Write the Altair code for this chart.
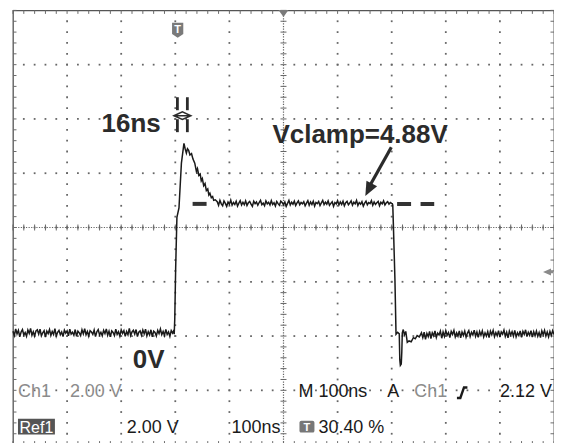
import altair as alt
import pandas as pd

W, H = 542, 435
T_DOMAIN = [0, 1000]
V_DOMAIN = [-4.12, 11.88]

# ---- trace samples (time in ns, voltage in V) ----
base_t = [k * 2.5 for k in range(120)]
base_v = [0.06, -0.10, 0.14, -0.04, 0.09, -0.15, 0.03, 0.12, -0.08, 0.01,
          -0.13, 0.10, -0.02, 0.16, -0.09, 0.04, -0.12, 0.07, 0.11, -0.05,
          0.13, -0.11, 0.00, 0.08, -0.16, 0.06, -0.03, 0.12, -0.10, 0.05,
          -0.06, 0.15, -0.12, 0.02, 0.09, -0.07, 0.03, -0.14, 0.10, -0.01,
          0.07, -0.11, 0.13, -0.05, 0.02, -0.09, 0.12, -0.13, 0.06, 0.00,
          -0.10, 0.11, -0.04, 0.15, -0.07, 0.05, -0.12, 0.08, 0.03, -0.06,
          0.10, -0.14, 0.04, 0.12, -0.08, 0.02, -0.11, 0.09, -0.03, 0.14,
          -0.09, 0.06, -0.15, 0.07, 0.01, -0.10, 0.13, -0.06, 0.04, -0.12,
          0.11, -0.02, 0.08, -0.13, 0.05, -0.07, 0.16, -0.10, 0.03, 0.09,
          -0.05, 0.12, -0.14, 0.02, 0.07, -0.09, 0.10, -0.04, 0.13, -0.11,
          0.04, -0.08, 0.11, -0.15, 0.06, 0.01, -0.12, 0.09, -0.03, 0.14,
          -0.07, 0.05, -0.10, 0.12, -0.06, 0.03, -0.13, 0.08, -0.01, 0.10]
rise_t = [298, 299, 300.7, 303, 306.8, 311.3, 316, 318, 320.5, 322.5,
          324.7, 327, 330, 332.7, 336, 339, 341, 343.5, 346, 348,
          350, 352.5, 355, 357.4, 360, 362, 364, 366.6, 369, 371, 374]
rise_v = [-0.05, 0.5, 2.4, 4.25, 4.6, 6.25, 6.98, 6.80, 6.62, 6.78,
          6.72, 6.55, 6.6, 6.4, 6.25, 5.95, 6.05, 5.8, 5.85, 5.6,
          5.68, 5.42, 5.5, 5.24, 5.3, 5.08, 5.14, 4.98, 5.02, 4.88, 4.9]
plat_t = [377.5 + k * 2.5 for k in range(130)]
plat_v = [4.83, 4.70, 4.88, 4.75, 4.68, 4.86, 4.77, 4.66, 4.82, 4.74,
          4.89, 4.70, 4.80, 4.73, 4.85, 4.67, 4.78, 4.87, 4.71, 4.81,
          4.72, 4.86, 4.69, 4.79, 4.84, 4.74, 4.66, 4.85, 4.76, 4.82,
          4.70, 4.80, 4.88, 4.72, 4.78, 4.68, 4.86, 4.75, 4.81, 4.71,
          4.87, 4.73, 4.79, 4.67, 4.84, 4.76, 4.70, 4.85, 4.80, 4.72,
          4.82, 4.66, 4.77, 4.88, 4.71, 4.81, 4.74, 4.85, 4.69, 4.79,
          4.86, 4.72, 4.80, 4.75, 4.83, 4.68, 4.78, 4.87, 4.70, 4.82,
          4.73, 4.85, 4.67, 4.80, 4.76, 4.84, 4.69, 4.79, 4.88, 4.72,
          4.81, 4.74, 4.86, 4.70, 4.77, 4.83, 4.66, 4.80, 4.75, 4.87,
          4.71, 4.82, 4.73, 4.85, 4.68, 4.79, 4.84, 4.72, 4.78, 4.86,
          4.70, 4.81, 4.75, 4.88, 4.69, 4.80, 4.74, 4.83, 4.67, 4.78,
          4.85, 4.72, 4.80, 4.76, 4.87, 4.70, 4.82, 4.73, 4.79, 4.84,
          4.68, 4.81, 4.75, 4.86, 4.71, 4.79, 4.83, 4.74, 4.80, 4.77]
fall_t = [701, 702, 703, 706, 708, 711, 714, 715, 716, 717.7, 718.7, 719.6,
          721.4, 723.5, 726, 728.8, 732, 736, 740, 743.5, 747, 751, 755]
fall_v = [4.76, 4.7, 4.05, 1.95, -0.05, 0.02, -0.04, -1.0, -1.2, -1.15, -0.7, 0.0,
          0.12, -0.08, 0.05, -0.35, -0.3, -0.33, -0.18, -0.22, -0.1, -0.15, 0.0]
post_t = [757.5 + k * 2.5 for k in range(98)]
post_v = [-0.18, 0.02, -0.24, -0.02, -0.14, 0.05, -0.21, 0.00, -0.11, 0.07,
          -0.17, -0.01, -0.08, 0.06, -0.20, 0.03, -0.13, 0.08, -0.09, 0.01,
          -0.18, 0.05, -0.06, 0.09, -0.15, 0.00, -0.12, 0.07, -0.19, 0.03,
          -0.10, 0.06, -0.16, -0.01, 0.08, -0.14, 0.02, -0.08, 0.10, -0.13,
          0.03, -0.17, 0.05, -0.09, 0.07, -0.15, 0.00, -0.12, 0.04, -0.18,
          0.06, -0.07, 0.09, -0.14, 0.01, -0.11, 0.08, -0.16, 0.03, -0.05,
          0.10, -0.13, 0.02, -0.19, 0.06, -0.08, 0.04, -0.12, 0.09, -0.15,
          0.00, -0.10, 0.07, -0.17, 0.05, -0.06, 0.11, -0.14, 0.02, -0.09,
          0.08, -0.16, 0.04, -0.11, 0.06, -0.13, 0.01, -0.18, 0.07, -0.07,
          0.09, -0.12, 0.03, -0.15, 0.05, -0.10, 0.08, -0.06]

# ---- graticule ----
major_t = list(range(0, 1001, 100))
major_v = [round(-4.12 + 2 * k, 2) for k in range(9)]
minor_t = list(range(0, 1001, 20))
minor_v = [round(-4.12 + 0.4 * k, 2) for k in range(41)]
center_t, center_v = 500, 3.88

xs = alt.Scale(domain=T_DOMAIN, nice=False, zero=False)
ys = alt.Scale(domain=V_DOMAIN, nice=False, zero=False)
FONT = "Liberation Sans"
GRID = "#666666"
DARK = "#2b2b2b"


def X(f="t"):
    return alt.X(f"{f}:Q", scale=xs, axis=None)


def Y(f="v"):
    return alt.Y(f"{f}:Q", scale=ys, axis=None)


def pt(t=0, v=0):
    return pd.DataFrame({"t": [t], "v": [v]})


one = pd.DataFrame({"a": [0]})
mt = pd.DataFrame({"t": minor_t})
mv = pd.DataFrame({"v": minor_v})

# dotted graticule: a dot at every minor step along each major line
dots = pd.DataFrame(
    [{"t": t, "v": v} for v in major_v[1:-1] for t in minor_t[1:-1] if t != center_t]
    + [{"t": t, "v": v} for t in major_t[1:-1] if t != center_t for v in minor_v[1:-1]]
)

trace_df = pd.DataFrame({"t": base_t + rise_t + plat_t + fall_t + post_t,
                         "v": base_v + rise_v + plat_v + fall_v + post_v})
trace_df["i"] = range(len(trace_df))

layers = []
layers.append(alt.Chart(dots).mark_square(size=3.2, filled=True, color=GRID, opacity=1).encode(
    x=X(), y=Y()))

# center crosshair (dense dotted) with cross ticks
layers.append(alt.Chart(pt(center_t)).mark_rule(color=GRID, strokeDash=[1.2, 1.4], strokeWidth=1.2).encode(x=X()))
layers.append(alt.Chart(pt(0, center_v)).mark_rule(color=GRID, strokeDash=[1.2, 1.4], strokeWidth=1.2).encode(y=Y()))
layers.append(alt.Chart(mv).mark_rule(color=GRID).encode(y=Y(), x=alt.value(W / 2 - 3), x2=alt.value(W / 2 + 3)))
layers.append(alt.Chart(mt).mark_rule(color=GRID).encode(x=X(), y=alt.value(H / 2 - 3), y2=alt.value(H / 2 + 3)))

# border ticks
BT = "#6a6a6a"
layers.append(alt.Chart(mt).mark_rule(color=BT).encode(x=X(), y=alt.value(0), y2=alt.value(3.5)))
layers.append(alt.Chart(mt).mark_rule(color=BT).encode(x=X(), y=alt.value(H - 3.5), y2=alt.value(H)))
layers.append(alt.Chart(mv).mark_rule(color=BT).encode(y=Y(), x=alt.value(0), x2=alt.value(3.5)))
layers.append(alt.Chart(mv).mark_rule(color=BT).encode(y=Y(), x=alt.value(W - 3.5), x2=alt.value(W)))

# clamp dashed line
clamp_df = pd.DataFrame({"t": [332, 710], "t2": [358, 778.6], "v": [4.75, 4.75]})
layers.append(alt.Chart(clamp_df).mark_rule(color="#333333", strokeWidth=4, strokeDash=[14, 9.5]).encode(
    x=X(), x2="t2:Q", y=Y()))

# trace
layers.append(alt.Chart(trace_df).mark_line(color="#1a1a1a", strokeWidth=1.5).encode(
    x=X(), y=Y(), order="i:Q"))

# annotation texts
def big(txt, t, v, align):
    return alt.Chart(pt(t, v)).mark_text(text=txt, font=FONT, fontSize=26, fontWeight="bold",
                                         color=DARK, align=align, baseline="alphabetic").encode(x=X(), y=Y())


layers.append(big("16ns", 273, 7.39, "right"))
layers.append(big("Vclamp=4.88V", 479.7, 6.99, "left"))
layers.append(big("0V", 221.4, -1.29, "left"))

# arrow
arrow_df = pd.DataFrame({"t": [699.3], "v": [6.84], "t2": [659], "v2": [5.4]})
layers.append(alt.Chart(arrow_df).mark_rule(color=DARK, strokeWidth=3.2).encode(
    x=X(), y=Y(), x2="t2:Q", y2="v2:Q"))
layers.append(alt.Chart(pt(657.2, 5.27)).mark_point(
    shape="M0,-1L0.86,1L-0.86,1Z", size=196, angle=207.5, filled=True, fill=DARK,
    strokeWidth=0, opacity=1).encode(x=X(), y=Y()))

# time cursors
cur_df = pd.DataFrame({"t": [303.9, 322.3]})
layers.append(alt.Chart(cur_df).mark_rule(color=DARK, strokeWidth=2.8).encode(
    x=X(), y=alt.value(87), y2=alt.value(100)))
layers.append(alt.Chart(cur_df).mark_rule(color=DARK, strokeWidth=2.8).encode(
    x=X(), y=alt.value(109), y2=alt.value(122)))
layers.append(alt.Chart(pt(313.1)).mark_point(
    shape="M-1,0L0,-0.45L1,0L0,0.45Z M-1,0L1,0", size=289, filled=False, stroke=DARK,
    strokeWidth=1.5, opacity=1).encode(x=X(), y=alt.value(105.5)))

# screen markers
MK = "#7a7a7a"
layers.append(alt.Chart(pt(304.4)).mark_point(
    shape="M-0.75,-1L0.75,-1L0.75,0.5L0,1L-0.75,0.5Z", size=225, filled=True, fill=MK,
    strokeWidth=0, opacity=1).encode(x=X(), y=alt.value(20)))
layers.append(alt.Chart(pt(304.4)).mark_text(text="T", font=FONT, fontSize=11, fontWeight="bold",
                                             color="white", baseline="alphabetic").encode(
    x=X(), y=alt.value(23)))
layers.append(alt.Chart(pt(center_t)).mark_point(
    shape="M-1,-0.7L1,-0.7L0,0.7Z", size=100, filled=True, fill=MK, strokeWidth=0,
    opacity=1).encode(x=X(), y=alt.value(3)))
layers.append(alt.Chart(pt(0, 2.24)).mark_point(
    shape="M-1,0L0.6,-0.7L0.6,0.7Z M0.6,-0.25L1,-0.25L1,0.25L0.6,0.25Z", size=100,
    filled=True, fill="#8a8a8a", strokeWidth=0, opacity=1).encode(x=alt.value(536), y=Y()))

# readouts
def ro(txt, x, y, color="#1a1a1a", align="left", size=18, weight="normal"):
    return alt.Chart(one).mark_text(text=txt, font=FONT, fontSize=size, fontWeight=weight,
                                    color=color, align=align, baseline="alphabetic").encode(
        x=alt.value(x), y=alt.value(y))


GRAY = "#8c8c8c"
layers.append(ro("Ch1", 5, 387.5, GRAY))
layers.append(ro("2.00 V", 57, 387.5, GRAY))
layers.append(ro("M 100ns", 286, 387.5))
layers.append(ro("A", 375, 387.5))
layers.append(ro("Ch1", 402, 387.5, GRAY))
layers.append(ro("2.12 V", 540, 387.5, align="right"))
layers.append(alt.Chart(one).mark_point(
    shape="M-1,1L-0.35,1L0.35,-1L1,-1", size=110, filled=False, stroke="#1a1a1a",
    strokeWidth=2.4, opacity=1).encode(x=alt.value(450), y=alt.value(383)))

layers.append(alt.Chart(one).mark_rect(color="#555555").encode(
    x=alt.value(5), x2=alt.value(42), y=alt.value(409), y2=alt.value(425)))
layers.append(ro("Ref1", 23.5, 423, "white", align="center", size=16))
layers.append(ro("2.00 V", 114, 423))
layers.append(ro("100ns", 219, 423))
layers.append(alt.Chart(one).mark_rect(color="#777777", cornerRadius=2).encode(
    x=alt.value(287), x2=alt.value(302), y=alt.value(411), y2=alt.value(423)))
layers.append(ro("T", 294.5, 421.5, "white", align="center", size=11, weight="bold"))
layers.append(ro("30.40 %", 306, 423))

chart = alt.layer(*layers).properties(
    width=W, height=H,
    padding={"left": 5, "top": 2, "right": 0, "bottom": 0},
    autosize="none",
    background="white",
).configure_view(stroke="#555555", strokeWidth=1.3)

chart.save("out.html", embed_options={"renderer": "svg", "actions": False})
